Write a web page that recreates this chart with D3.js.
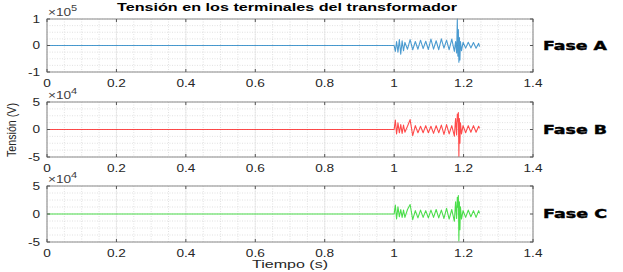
<!DOCTYPE html>
<html>
<head>
<meta charset="utf-8">
<script src="https://cdn.jsdelivr.net/npm/d3@7"></script>
<style>
  body { margin: 0; background: #fff; }
  text { font-family: "Liberation Sans", Arial, sans-serif; }
</style>
</head>
<body>
<svg id="chart" width="623" height="272"></svg>
<script>
// tiempo (s) - la señal es cero hasta 1 s
const tiempo = [0, 1.000, 1.0035, 1.007, 1.011, 1.015, 1.019, 1.023, 1.027, 1.031,
  1.0385, 1.046, 1.0535, 1.061, 1.0685, 1.076, 1.0835, 1.091, 1.0985, 1.106,
  1.1135, 1.121, 1.1285, 1.136, 1.1435, 1.151, 1.1585, 1.166, 1.1735, 1.177,
  1.180, 1.182, 1.1835, 1.185, 1.1865, 1.188, 1.1895, 1.191, 1.194, 1.1985,
  1.206, 1.2135, 1.221, 1.2285, 1.236, 1.2435, 1.246];

// tension (V) por fase
const faseA = [0, 0, -22000, 15000, -25000, 22000, -33000, 18000, -20000, 12000,
  -14000, 22000, -16000, 15000, -14000, 20000, -12000, 16000, -15000, 24000,
  -14000, 18000, -16000, 25000, -10000, 20000, -16000, 24000, -22000, 15000,
  -28000, 100000, -40000, 60000, -63000, 30000, -55000, 15000, -20000, 12000,
  -10000, 12000, -9000, 11000, -10000, 8000, -4000];

const faseB = [0, 0, 17000, -8000, 12000, -6000, 9000, -7000, 8000, -5000,
  6000, 18000, -11000, 7000, -6000, 6000, -6000, 7000, -6000, 6000,
  -7000, 7000, -6000, 8000, -9000, 9000, -8000, 7000, -12000, 20000,
  -10000, 28000, 15000, 31000, -49000, 20000, -25000, 12000, -8000, 7000,
  -6000, 7000, -5000, 7000, -5000, 6000, 2000];

const faseC = [0, 0, 16000, -9000, 13000, -5000, 8000, -6000, 7000, -6000,
  8000, 17000, -10000, 6000, -7000, 7000, -6000, 6000, -7000, 7000,
  -6000, 8000, -7000, 7000, -8000, 10000, -9000, 8000, -13000, 22000,
  -8000, 30000, 12000, 33000, -48000, 22000, -28000, 13000, -9000, 6000,
  -6000, 7000, -5000, 6000, -6000, 6000, 1000];

const xTicks = [0, 0.2, 0.4, 0.6, 0.8, 1, 1.2, 1.4];
const nombres = ["Fase A", "Fase B", "Fase C"];
const colores = ["#0072BD", "#FF0000", "#00D000"];
const limites = [1e5, 5e4, 5e4];
const exponentes = [5, 4, 4];
const series = [faseA, faseB, faseC];

const svg = d3.select("#chart");
const sx = 1.3; // la imagen original esta estirada en horizontal

const left = 47, right = 533;
const panels = [{ top: 19, bottom: 72 }, { top: 102, bottom: 157 }, { top: 186, bottom: 242 }];

const x = d3.scaleLinear().domain([0, 1.4]).range([left, right]);

function stretchedText(g, px, py, str, anchor) {
  return g.append("text")
    .attr("transform", `translate(${px},${py}) scale(${sx},1)`)
    .attr("text-anchor", anchor)
    .text(str);
}

panels.forEach((p, i) => {
  const lim = limites[i];
  const y = d3.scaleLinear().domain([-lim, lim]).range([p.bottom, p.top]);
  const g = svg.append("g");

  // rejilla menor
  const xMinor = d3.range(0, 1.4001, 0.05);
  const yMinor = d3.range(-lim, lim + 1, lim / 4);
  g.append("g").selectAll("line").data(xMinor).join("line")
    .attr("x1", d => x(d)).attr("x2", d => x(d))
    .attr("y1", p.top).attr("y2", p.bottom)
    .attr("stroke", "#d4d4d4").attr("stroke-width", 0.7)
    .attr("stroke-dasharray", "1,1.5");
  g.append("g").selectAll("line").data(yMinor).join("line")
    .attr("x1", left).attr("x2", right)
    .attr("y1", d => y(d)).attr("y2", d => y(d))
    .attr("stroke", "#d4d4d4").attr("stroke-width", 0.7)
    .attr("stroke-dasharray", "1,1.5");

  // rejilla mayor
  g.append("g").selectAll("line").data(xTicks).join("line")
    .attr("x1", d => x(d)).attr("x2", d => x(d))
    .attr("y1", p.top).attr("y2", p.bottom)
    .attr("stroke", "#e3e3e3").attr("stroke-width", 0.7);

  // señal
  const line = d3.line().x((d, j) => x(tiempo[j])).y(d => y(d));
  g.append("path")
    .datum(series[i])
    .attr("fill", "none")
    .attr("stroke", colores[i])
    .attr("stroke-opacity", 0.7)
    .attr("stroke-width", 1.1)
    .attr("stroke-linejoin", "round")
    .attr("d", line);

  // caja y marcas
  g.append("rect")
    .attr("x", left).attr("y", p.top)
    .attr("width", right - left).attr("height", p.bottom - p.top)
    .attr("fill", "none").attr("stroke", "#8a8a8a").attr("stroke-width", 1);

  const tl = 3;
  g.append("g").selectAll("line").data(xTicks).join("line")
    .attr("x1", d => x(d)).attr("x2", d => x(d))
    .attr("y1", p.bottom).attr("y2", p.bottom - tl)
    .attr("stroke", "#555");
  g.append("g").selectAll("line").data(xTicks).join("line")
    .attr("x1", d => x(d)).attr("x2", d => x(d))
    .attr("y1", p.top).attr("y2", p.top + tl)
    .attr("stroke", "#555");
  const yTicks = [-lim, 0, lim];
  g.append("g").selectAll("line").data(yTicks).join("line")
    .attr("x1", left).attr("x2", left + tl)
    .attr("y1", d => y(d)).attr("y2", d => y(d))
    .attr("stroke", "#555");
  g.append("g").selectAll("line").data(yTicks).join("line")
    .attr("x1", right).attr("x2", right - tl)
    .attr("y1", d => y(d)).attr("y2", d => y(d))
    .attr("stroke", "#555");

  // etiquetas
  const lab = g.append("g").style("font-size", "10.5px").attr("fill", "#262626");
  xTicks.forEach(t => stretchedText(lab, x(t), p.bottom + 15, d3.format("~g")(t), "middle"));
  yTicks.forEach(t => stretchedText(lab, 40, y(t) + 3.8, String(t / Math.pow(10, exponentes[i])), "end"));

  const ex = g.append("text")
    .attr("transform", `translate(48,${p.top - 3}) scale(${sx},1)`)
    .attr("fill", "#404040")
    .style("font-size", "10.5px");
  ex.append("tspan").text("\u00d710");
  ex.append("tspan").attr("dy", -5).style("font-size", "8.5px").text(exponentes[i]);

  g.append("text")
    .attr("x", 543).attr("y", (p.top + p.bottom) / 2 + 4)
    .attr("textLength", 64).attr("lengthAdjust", "spacingAndGlyphs")
    .style("font-family", "'DejaVu Sans', sans-serif")
    .style("font-weight", "900").style("font-size", "12px")
    .attr("fill", "#000").attr("stroke", "#000").attr("stroke-width", 0.4)
    .text(nombres[i]);
});

svg.append("text")
  .attr("x", 117).attr("y", 11)
  .attr("textLength", 340).attr("lengthAdjust", "spacingAndGlyphs")
  .style("font-weight", "bold").style("font-size", "11px")
  .attr("fill", "#000")
  .text("Tensión en los terminales del transformador");

svg.append("text")
  .attr("x", 252).attr("y", 268)
  .attr("textLength", 76).attr("lengthAdjust", "spacingAndGlyphs")
  .style("font-size", "11.5px").attr("fill", "#262626")
  .text("Tiempo (s)");

svg.append("text")
  .attr("transform", "translate(16,130) rotate(-90)")
  .attr("text-anchor", "middle")
  .attr("textLength", 54).attr("lengthAdjust", "spacingAndGlyphs")
  .style("font-size", "12px").attr("fill", "#262626")
  .text("Tensión (V)");
</script>
</body>
</html>
